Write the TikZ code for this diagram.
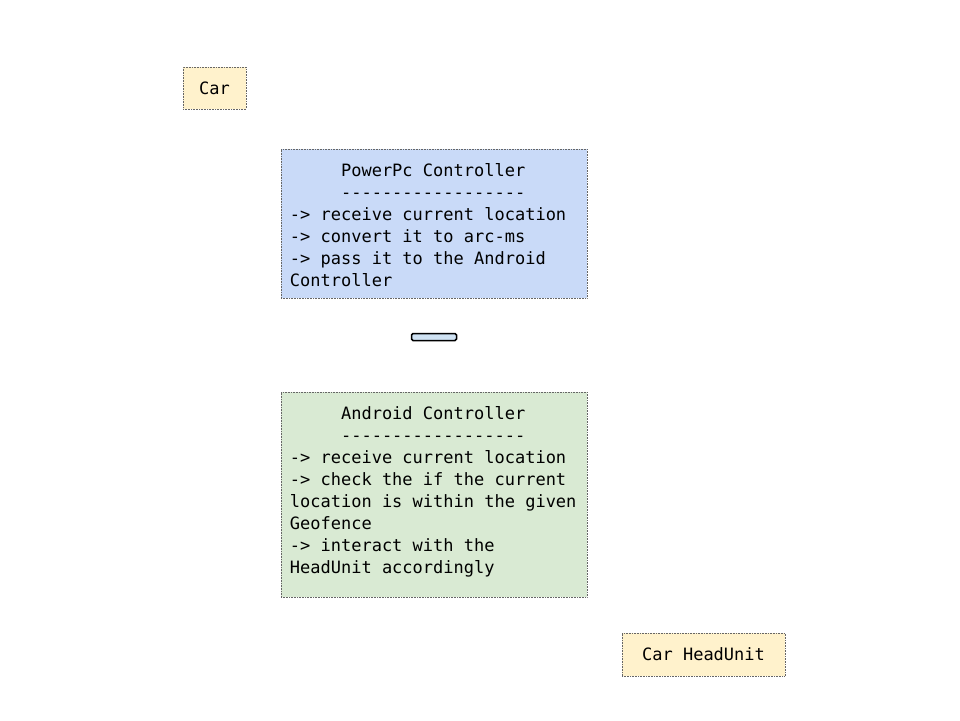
\documentclass[tikz,border=0pt]{standalone}
\usepackage{fontspec}
\setmonofont{DejaVu Sans Mono}
\usetikzlibrary{positioning}
\definecolor{noteyellow}{HTML}{FFF2CC}
\definecolor{noteblue}{HTML}{C9DAF8}
\definecolor{notegreen}{HTML}{D9EAD3}
\definecolor{linkblue}{HTML}{CFE2F3}
\definecolor{edgegray}{HTML}{666666}
\tikzset{
  box/.style={draw=edgegray, densely dotted, line width=0.6pt, inner sep=0pt},
  txt/.style={inner sep=0pt, align=left, font=\fontsize{17}{22}\selectfont\ttfamily},
}
\begin{document}
\begin{tikzpicture}[x=1pt, y=-1pt]
\useasboundingbox (0, 0) rectangle (960, 720);
\node [box, fill=noteyellow, minimum width=63, minimum height=42] (car) at (214.5, 88) {};
\node [txt] (cartxt) at (car.center) {Car};
\node [box, fill=noteblue, minimum width=306, minimum height=149] (pwr) at (434, 223.5) {};
\node [txt, anchor=north west] (pwrtxt) at ([shift={(9, 15)}]pwr.north west) {\phantom{12345}PowerPc Controller\\
\phantom{12345}------------------\\
-> receive current location\\
-> convert it to arc-ms\\
-> pass it to the Android\\
Controller};
\node [draw=black, line width=1.5pt, rounded corners=1.5pt, fill=linkblue, minimum width=45, minimum height=7, inner sep=0pt] (link) at (434, 337) {};
\node [box, fill=notegreen, minimum width=306, minimum height=205] (andr) at (434, 494.5) {};
\node [txt, anchor=north west] (andrtxt) at ([shift={(9, 15)}]andr.north west) {\phantom{12345}Android Controller\\
\phantom{12345}------------------\\
-> receive current location\\
-> check the if the current\\
location is within the given\\
Geofence\\
-> interact with the\\
HeadUnit accordingly};
\node [box, fill=noteyellow, minimum width=163, minimum height=43] (hu) at (703.5, 654.5) {};
\node [txt] (hutxt) at (hu.center) {Car HeadUnit};
\end{tikzpicture}
\end{document}
